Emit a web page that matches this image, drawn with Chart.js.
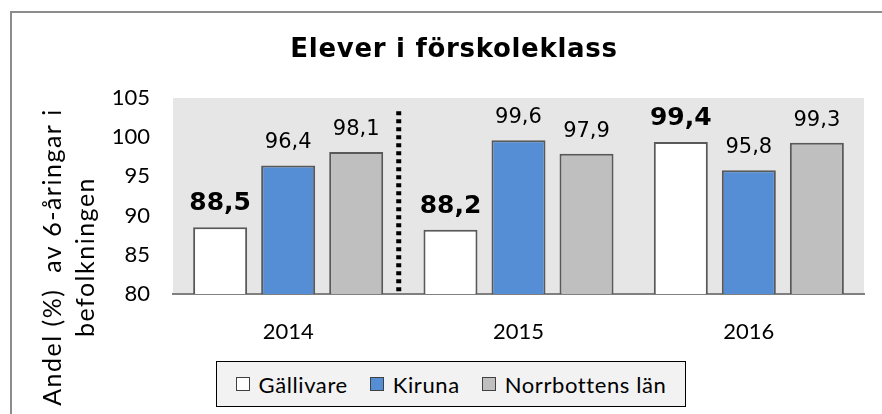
<!DOCTYPE html>
<html lang="sv">
<head>
<meta charset="utf-8">
<title>Elever i förskoleklass</title>
<script src="https://cdn.jsdelivr.net/npm/chart.js@4"></script>
<style>
  html, body { margin: 0; padding: 0; background: #fff; overflow: hidden; }
  #wrap { position: relative; width: 882px; height: 414px; }
  #frame {
    position: absolute; left: 10px; top: 11px; width: 900px; height: 420px;
    border: 2px solid #8c8c8c; box-sizing: border-box; pointer-events: none;
  }
  #legend {
    position: absolute; left: 216px; top: 361px; width: 470px; height: 46px;
    box-sizing: border-box; border: 1.5px solid #000; background: #f2f2f2;
    display: flex; align-items: center; justify-content: center;
    font-family: 'Lato', sans-serif; font-size: 22px; letter-spacing: 0.6px; color: #000;
  }
  #legend .item { display: flex; align-items: center; margin: 0 11px; }
  #legend .sw { width: 12px; height: 12px; border: 1.5px solid #404040; margin-right: 9px; }
</style>
</head>
<body>
<div id="wrap">
  <canvas id="chart"></canvas>
  <div id="frame"></div>
  <div id="legend"></div>
</div>
<script>
// Data
const years = ['2014', '2015', '2016'];
const seriesNames = ['Gällivare', 'Kiruna', 'Norrbottens län'];
const gallivare = [88.5, 88.2, 99.4];
const kiruna = [96.4, 99.6, 95.8];
const norrbotten = [98.1, 97.9, 99.3];
const yTicks = [80, 85, 90, 95, 100, 105];

const barColors = ['#ffffff', '#558ED5', '#BFBFBF'];
const fmt = v => v.toFixed(1).replace('.', ',');

// gray plot background
const plotBg = {
  id: 'plotBg',
  beforeDraw(chart) {
    const { ctx, chartArea: a } = chart;
    ctx.save();
    ctx.fillStyle = '#e6e6e6';
    ctx.fillRect(a.left, a.top, a.right - a.left, a.bottom - a.top);
    ctx.restore();
  }
};

// title, y-axis title, divider and value labels
const extras = {
  id: 'extras',
  afterDatasetsDraw(chart) {
    const { ctx, chartArea: a, scales } = chart;
    ctx.save();

    // dotted divider between 2014 and 2015
    const dx = scales.x.getPixelForValue(0.48);
    ctx.strokeStyle = '#000';
    ctx.lineWidth = 5;
    ctx.setLineDash([4, 4]);
    ctx.beginPath();
    ctx.moveTo(dx, scales.y.getPixelForValue(103.3));
    ctx.lineTo(dx, a.bottom);
    ctx.stroke();
    ctx.setLineDash([]);

    // value labels
    ctx.fillStyle = '#000';
    ctx.textAlign = 'center';
    ctx.textBaseline = 'alphabetic';
    chart.data.datasets.forEach((ds, di) => {
      const meta = chart.getDatasetMeta(di);
      ctx.font = di === 0 ? 'bold 25px "DejaVu Sans"' : '21px "DejaVu Sans"';
      meta.data.forEach((bar, i) => {
        ctx.fillText(fmt(ds.data[i]), bar.x, bar.y - 17);
      });
    });

    // chart title
    ctx.font = 'bold 26px "DejaVu Sans"';
    if ('letterSpacing' in ctx) ctx.letterSpacing = '0.7px';
    ctx.fillText('Elever i förskoleklass', 454, 57);

    // y axis title (two lines)
    ctx.font = '25px Lato';
    if ('letterSpacing' in ctx) ctx.letterSpacing = '1.5px';
    ctx.textBaseline = 'middle';
    ctx.translate(0, 257);
    ctx.rotate(-Math.PI / 2);
    ctx.fillText('Andel (%)  av 6-åringar i', 0, 53);
    ctx.fillText('befolkningen', 0, 86);
    ctx.restore();
  }
};

new Chart(document.getElementById('chart'), {
  type: 'bar',
  data: {
    labels: years,
    datasets: [gallivare, kiruna, norrbotten].map((d, i) => ({
      label: seriesNames[i],
      data: d,
      backgroundColor: barColors[i],
      borderColor: '#595959',
      borderWidth: 2,
      categoryPercentage: 0.886,
      barPercentage: 0.794
    }))
  },
  options: {
    responsive: true,
    maintainAspectRatio: false,
    animation: false,
    layout: { padding: { top: 98, right: 18, left: 0, bottom: 0 } },
    plugins: {
      legend: { display: false },
      title: { display: false },
      tooltip: { enabled: false }
    },
    scales: {
      x: {
        grid: { display: false, drawTicks: false },
        border: { display: true, color: '#808080', width: 2 },
        ticks: { color: '#000', font: { family: 'Lato', size: 22 }, padding: 25 },
        afterFit: s => { s.height = 414 - 294; }
      },
      y: {
        min: yTicks[0],
        max: yTicks[yTicks.length - 1],
        grid: { display: false, drawTicks: false },
        border: { display: false },
        afterBuildTicks: s => { s.ticks = yTicks.map(v => ({ value: v })); },
        ticks: { color: '#000', font: { family: 'Lato', size: 22 }, padding: 23 },
        afterFit: s => { s.width = 173; }
      }
    }
  },
  plugins: [plotBg, extras]
});

// legend
const legend = document.getElementById('legend');
seriesNames.forEach((name, i) => {
  const item = document.createElement('div');
  item.className = 'item';
  const sw = document.createElement('span');
  sw.className = 'sw';
  sw.style.background = barColors[i];
  const txt = document.createElement('span');
  txt.textContent = name;
  item.appendChild(sw);
  item.appendChild(txt);
  legend.appendChild(item);
});
</script>
</body>
</html>
